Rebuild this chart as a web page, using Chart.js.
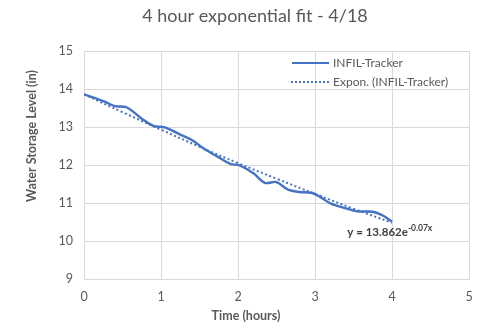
<!DOCTYPE html>
<html>
<head>
<meta charset="utf-8">
<script src="https://cdn.jsdelivr.net/npm/chart.js@4.4.1/dist/chart.umd.min.js"></script>
<style>
html,body{margin:0;padding:0;background:#fff;}
#wrap{width:497px;height:329px;position:relative;}
</style>
</head>
<body>
<div id="wrap"><canvas id="c" width="497" height="329"></canvas></div>
<script>
const chartTitle = "4 hour exponential fit - 4/18";
const xTitle = "Time (hours)";
const yTitle = "Water Storage Level (in)";
const seriesName = "INFIL-Tracker";
const trendName = "Expon. (INFIL-Tracker)";
const equationMain = "y = 13.862e";
const equationExp = "-0.07x";

const timeHours = [0, 0.25, 0.4, 0.55, 0.75, 0.9, 1.05, 1.25, 1.4, 1.55, 1.75, 1.9, 2.02, 2.2, 2.35, 2.5, 2.65, 2.8, 2.95, 3.05, 3.2, 3.4, 3.55, 3.75, 3.88, 4.0];
const levelIn   = [13.86, 13.68, 13.55, 13.52, 13.22, 13.03, 12.99, 12.80, 12.66, 12.44, 12.20, 12.03, 11.99, 11.78, 11.53, 11.55, 11.35, 11.29, 11.27, 11.18, 10.99, 10.86, 10.78, 10.77, 10.67, 10.51];

const trendTime  = [0, 0.5, 1.0, 1.5, 2.0, 2.5, 3.0, 3.5, 4.0];
const trendLevel = [13.86, 13.39, 12.93, 12.48, 12.05, 11.64, 11.24, 10.85, 10.48];

const xTicks = [0, 1, 2, 3, 4, 5];
const yTicks = [9, 10, 11, 12, 13, 14, 15];

const FONT = "Lato, 'Open Sans', sans-serif";
const BLUE = "#4472C4";
const GREY = "#595959";

const overlay = {
  id: 'overlay',
  afterDraw(chart) {
    const ctx = chart.ctx;
    const xs = chart.scales.x, ys = chart.scales.y;
    ctx.save();
    ctx.fillStyle = GREY;
    ctx.font = "18px " + FONT;
    ctx.textAlign = "center";
    ctx.textBaseline = "middle";
    ctx.fillText(chartTitle, 255, 16);
    ctx.font = "bold 12.5px " + FONT;
    ctx.fillText(xTitle, 246, 316);
    ctx.save();
    ctx.translate(32, 136);
    ctx.rotate(-Math.PI / 2);
    ctx.fillText(yTitle, 0, 0);
    ctx.restore();
    ctx.textAlign = "left";
    ctx.font = "12px " + FONT;
    ctx.strokeStyle = BLUE;
    ctx.lineWidth = 2;
    ctx.setLineDash([]);
    ctx.beginPath(); ctx.moveTo(292, 63); ctx.lineTo(329, 63); ctx.stroke();
    ctx.fillText(seriesName, 333, 63);
    ctx.setLineDash([2, 2]);
    ctx.beginPath(); ctx.moveTo(291, 82); ctx.lineTo(329, 82); ctx.stroke();
    ctx.setLineDash([]);
    ctx.fillText(trendName, 333, 82);
    const ex = xs.getPixelForValue(3.42), ey = ys.getPixelForValue(10.12);
    ctx.fillStyle = "#404040";
    ctx.font = "bold 11.5px " + FONT;
    ctx.textBaseline = "alphabetic";
    ctx.fillText(equationMain, ex, ey);
    const w = ctx.measureText(equationMain).width;
    ctx.font = "bold 8.5px " + FONT;
    ctx.fillText(equationExp, ex + w, ey - 5);
    ctx.restore();
  }
};

new Chart(document.getElementById('c'), {
  type: 'scatter',
  data: {
    datasets: [
      {
        label: seriesName,
        data: timeHours.map((t, i) => ({x: t, y: levelIn[i]})),
        showLine: true,
        borderColor: BLUE,
        borderWidth: 2.4,
        pointRadius: 0,
        tension: 0.35,
        fill: false
      },
      {
        label: trendName,
        data: trendTime.map((t, i) => ({x: t, y: trendLevel[i]})),
        showLine: true,
        borderColor: BLUE,
        borderWidth: 2,
        borderDash: [2, 2.5],
        pointRadius: 0,
        tension: 0.4,
        fill: false
      }
    ]
  },
  options: {
    responsive: false,
    animation: false,
    layout: { padding: { top: 51, right: 28, left: 0, bottom: 0 } },
    plugins: { legend: { display: false }, title: { display: false }, tooltip: { enabled: false } },
    scales: {
      x: {
        type: 'linear', min: 0, max: 5,
        afterBuildTicks(s) { s.ticks = xTicks.map(v => ({value: v})); },
        afterFit(s) { s.height = 50; },
        grid: { color: '#d9d9d9', lineWidth: 1, drawTicks: false },
        border: { color: '#d9d9d9' },
        ticks: { color: GREY, font: { family: FONT, size: 12.5 }, padding: 10 }
      },
      y: {
        type: 'linear', min: 9, max: 15,
        afterBuildTicks(s) { s.ticks = yTicks.map(v => ({value: v})); },
        afterFit(s) { s.width = 84; },
        grid: { color: '#d9d9d9', lineWidth: 1, drawTicks: false },
        border: { color: '#d9d9d9' },
        ticks: { color: GREY, font: { family: FONT, size: 12.5 }, padding: 11 }
      }
    }
  },
  plugins: [overlay]
});
</script>
</body>
</html>
